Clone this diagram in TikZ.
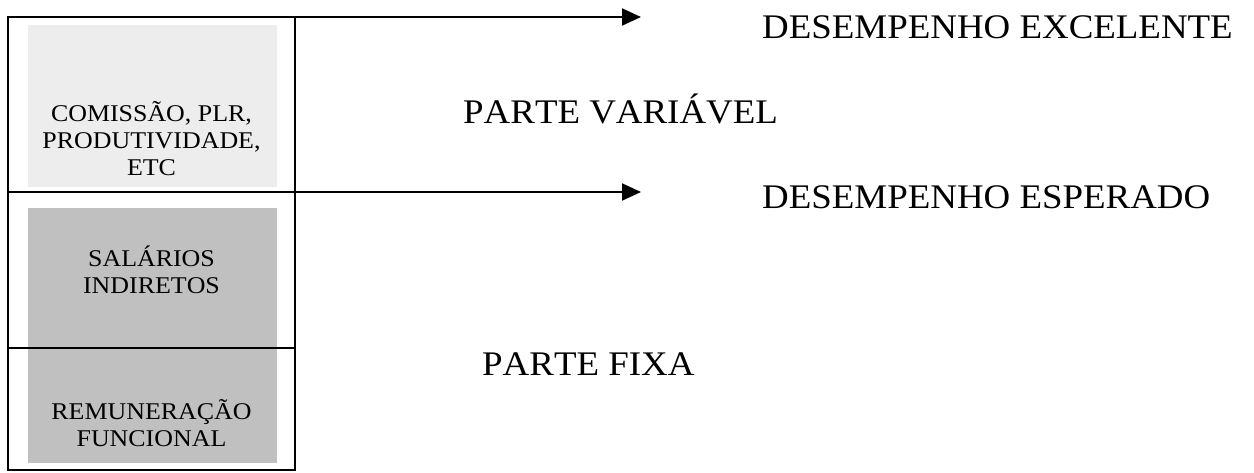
\documentclass[tikz,border=0pt]{standalone}
\usepackage{fontspec}
\setmainfont{Liberation Serif}[Kerning=Off]
\newfontfamily\stretchf{Liberation Serif}[FakeStretch=1.07,Kerning=Off]
\newfontfamily\cellf{Liberation Serif}[FakeStretch=1.08,Kerning=Off]
\usetikzlibrary{arrows.meta}
\definecolor{lightshade}{HTML}{EDEDED}
\definecolor{darkshade}{HTML}{C0C0C0}
\tikzset{
  cell/.style={draw=black, line width=2pt, minimum width=287pt, inner sep=0pt, outer sep=0pt},
  celltext/.style={align=center, inner sep=0pt, font=\cellf\fontsize{24}{27}\selectfont},
  bigtext/.style={anchor=base west, inner sep=0pt, font=\stretchf\fontsize{34.5}{40}\selectfont},
  arr/.style={line width=2pt, -{Triangle[length=19pt,width=17pt]}}
}
\begin{document}
\begin{tikzpicture}[x=1pt,y=-1pt]
\useasboundingbox (0,0) rectangle (1254,472);
% shading
\fill[lightshade] (28,25) rectangle (277,187);
\fill[darkshade] (28,208) rectangle (277,463);
% cells
\node[cell, minimum height=175pt] (cv) at (151.5,104.5) {};
\node[cell, minimum height=156pt] (cs) at (151.5,270) {};
\node[cell, minimum height=122pt] (cr) at (151.5,409) {};
% cell texts
\node[celltext] (tv) at (151.5,138.5) {COMISSÃO, PLR,\\PRODUTIVIDADE,\\ETC};
\node[celltext] (ts) at (151.5,270) {SALÁRIOS\\INDIRETOS};
\node[celltext] (tr) at (151.5,423.5) {REMUNERAÇÃO\\FUNCIONAL};
% arrows
\coordinate (tipE) at (641,17);
\coordinate (tipS) at (641,192);
\draw[arr] (cv.north west) -- (tipE);
\draw[arr] (cv.south west) -- (tipS);
% labels
\node[bigtext] (exc) at (762,38) {DESEMPENHO EXCELENTE};
\node[bigtext] (var) at (463,123) {PARTE VARIÁVEL};
\node[bigtext] (esp) at (762,208) {DESEMPENHO ESPERADO};
\node[bigtext] (fix) at (482,375) {PARTE FIXA};
\end{tikzpicture}
\end{document}
